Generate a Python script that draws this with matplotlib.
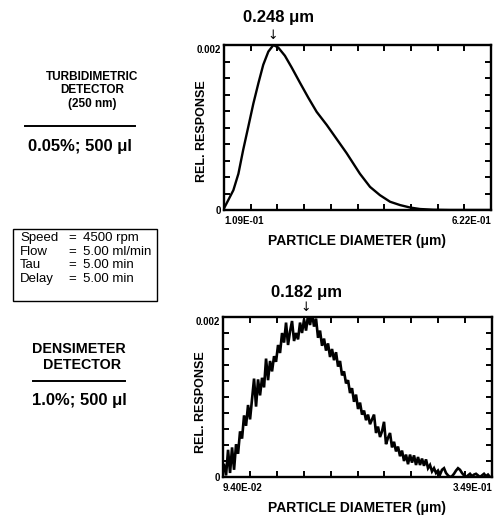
import numpy as np
import matplotlib
matplotlib.use("Agg")
import matplotlib.pyplot as plt
from matplotlib.patches import Rectangle
from matplotlib.lines import Line2D

# ---------------- data ----------------
# Turbidimetric detector (top)
turb_diam = [0.109, 0.1172, 0.1270, 0.1367, 0.1459, 0.1557, 0.1654, 0.1752, 0.1844,
             0.1942, 0.2039, 0.2131, 0.2260, 0.2388, 0.2552, 0.2711, 0.2870, 0.3065,
             0.3255, 0.3445, 0.3701, 0.3896, 0.4086, 0.4281, 0.4471, 0.4666, 0.4855,
             0.5112, 0.5430, 0.5707, 0.622]
turb_resp_e3 = [0.02, 0.12, 0.24, 0.44, 0.73, 1.01, 1.29, 1.54, 1.76,
                1.92, 2.00, 1.97, 1.87, 1.73, 1.54, 1.36, 1.19, 1.03,
                0.86, 0.69, 0.44, 0.28, 0.18, 0.10, 0.06, 0.03, 0.012,
                0.003, 0.0, 0.0, 0.0]
turb_xlim = [0.109, 0.622]
turb_xlabels = ["1.09E-01", "6.22E-01"]
turb_peak_label = "0.248 \u03bcm"
turb_arrow_x = 0.2035

# Densimeter detector (bottom), evenly sampled
dens_range = [0.0950, 0.3471]
dens_resp_e3 = [
    0.15, 0.02, 0.34, 0.05, 0.37, 0.09, 0.41, 0.29, 0.57, 0.48,
    0.77, 0.64, 0.90, 0.72, 0.98, 1.23, 0.88, 1.22, 1.02, 1.24,
    1.12, 1.48, 1.21, 1.45, 1.32, 1.51, 1.44, 1.65, 1.55, 1.80,
    1.68, 1.93, 1.65, 1.82, 1.95, 1.70, 1.80, 1.72, 1.93, 1.80,
    1.97, 1.83, 2.02, 1.90, 2.05, 1.88, 1.98, 1.74, 1.83, 1.64,
    1.73, 1.58, 1.67, 1.50, 1.60, 1.46, 1.56, 1.38, 1.45, 1.27,
    1.32, 1.17, 1.21, 1.05, 1.11, 0.94, 1.03, 0.85, 0.93, 0.78,
    0.83, 0.71, 0.78, 0.66, 0.72, 0.78, 0.55, 0.63, 0.50, 0.57,
    0.69, 0.41, 0.49, 0.55, 0.37, 0.44, 0.32, 0.38, 0.26, 0.33,
    0.20, 0.28, 0.16, 0.28, 0.18, 0.27, 0.15, 0.25, 0.15, 0.23,
    0.14, 0.22, 0.11, 0.15, 0.07, 0.11, 0.05, 0.08, 0.03, 0.09,
    0.11, 0.05, 0.02, 0.00, 0.01, 0.04, 0.08, 0.11, 0.09, 0.05,
    0.02, 0.00, 0.02, 0.04, 0.01, 0.03, 0.04, 0.02, 0.00, 0.02,
    0.04, 0.01, 0.03, 0.00]
dens_diam = np.linspace(dens_range[0], dens_range[1], len(dens_resp_e3))
dens_xlim = [0.094, 0.349]
dens_xlabels = ["9.40E-02", "3.49E-01"]
dens_peak_label = "0.182 \u03bcm"
dens_arrow_x = 0.1727

ymax = 0.002
ylabels = ["0", "0.002"]

# ---------------- figure ----------------
W, H = 494, 517
fig = plt.figure(figsize=(W / 100, H / 100), dpi=100)
fig.patch.set_facecolor("white")

SANS = ["Liberation Sans", "DejaVu Sans"]


def px(x, y):
    return x / W, 1 - y / H


def make_axes(left, top, right, bottom):
    l, t = px(left, top)
    r, b = px(right, bottom)
    return fig.add_axes([l, b, r - l, t - b])


def style_axes(ax, xlim, xlabels, ylab_y):
    ax.set_xlim(xlim)
    ax.set_ylim(0, ymax)
    for s in ax.spines.values():
        s.set_linewidth(1.7)
    ax.set_xticks(np.linspace(xlim[0], xlim[1], 11))
    ax.set_yticks(np.linspace(0, ymax, 11))
    xl = [""] * 11
    xl[0], xl[-1] = xlabels
    yl = [""] * 11
    yl[0], yl[-1] = ylabels
    ax.set_xticklabels(xl)
    ax.set_yticklabels(yl)
    ax.tick_params(direction="in", length=4, width=1.4, top=True, right=True)
    ax.tick_params(axis="x", pad=4)
    ax.tick_params(axis="y", pad=2)
    for i, lab in enumerate(ax.get_xticklabels()):
        lab.set_fontfamily(SANS)
        lab.set_fontweight("bold")
        lab.set_fontsize(7)
        if i == 0:
            lab.set_ha("left")
        elif i == 10:
            lab.set_ha("right")
    ylabs = ax.get_yticklabels()
    for lab in ylabs:
        lab.set_fontfamily(SANS)
        lab.set_fontweight("bold")
        lab.set_fontsize(7)
    ylabs[-1].set_va("top")
    ax.set_xlabel("PARTICLE DIAMETER (\u03bcm)", family=SANS, weight="bold",
                  fontsize=10, labelpad=6)
    ax.set_ylabel("REL. RESPONSE", family=SANS, weight="bold", fontsize=9)
    ax.yaxis.set_label_coords(-0.081, ylab_y)
    ax.yaxis.label.set_va("center")


# top axes
ax1 = make_axes(224, 45, 491, 210)
ax1.plot(turb_diam, np.array(turb_resp_e3) * 1e-3, color="black", lw=1.7,
         solid_joinstyle="round")
style_axes(ax1, turb_xlim, turb_xlabels, 0.48)
ax1.annotate(turb_peak_label, xy=(turb_arrow_x, ymax), xytext=(3.5, 19.5),
             textcoords="offset points", ha="center", va="center",
             family=SANS, weight="bold", fontsize=12, annotation_clip=False)
ax1.annotate("\u2193", xy=(turb_arrow_x, ymax), xytext=(0, 7),
             textcoords="offset points", ha="center", va="center",
             family="DejaVu Sans", fontsize=9, annotation_clip=False)

# bottom axes
ax2 = make_axes(223, 317, 492, 477)
ax2.plot(dens_diam, np.array(dens_resp_e3) * 1e-3, color="black", lw=1.9,
         solid_joinstyle="miter")
style_axes(ax2, dens_xlim, dens_xlabels, 0.47)
ax2.annotate(dens_peak_label, xy=(dens_arrow_x, ymax), xytext=(0, 17.5),
             textcoords="offset points", ha="center", va="center",
             family=SANS, weight="bold", fontsize=12, annotation_clip=False)
ax2.annotate("\u2193", xy=(dens_arrow_x, ymax), xytext=(0, 7),
             textcoords="offset points", ha="center", va="center",
             family="DejaVu Sans", fontsize=9, annotation_clip=False)

# ---------------- left annotations ----------------
def ftext(x, y, s, **kw):
    fx, fy = px(x, y)
    fig.text(fx, fy, s, ha=kw.pop("ha", "center"), va=kw.pop("va", "center"), **kw)


def hline(x0, x1, y, lw=1.4):
    a, b = px(x0, y)
    c, _ = px(x1, y)
    fig.add_artist(Line2D([a, c], [b, b], color="black", lw=lw))


ftext(92, 77, "TURBIDIMETRIC", family=SANS, weight="bold", fontsize=8.5)
ftext(92, 90, "DETECTOR", family=SANS, weight="bold", fontsize=8.5)
ftext(92, 104, "(250 nm)", family=SANS, weight="bold", fontsize=8.5)
hline(25, 135, 126)
ftext(80, 147, "0.05%; 500 \u03bcl", family=SANS, weight="bold", fontsize=12)

# parameter box
bx0, by0 = px(13, 301)
bx1, by1 = px(157, 229)
fig.add_artist(Rectangle((bx0, by0), bx1 - bx0, by1 - by0, transform=fig.transFigure,
                         fill=False, edgecolor="black", lw=1.0))
params = [("Speed", "4500 rpm"), ("Flow", "5.00 ml/min"),
          ("Tau", "5.00 min"), ("Delay", "5.00 min")]
for i, (k, v) in enumerate(params):
    yy = 238.5 + i * 13.5
    ftext(20, yy, k, ha="left", family=SANS, fontsize=9.5)
    ftext(68, yy, "=", ha="left", family=SANS, fontsize=9.5)
    ftext(83, yy, v, ha="left", family=SANS, fontsize=9.5)

ftext(79, 349, "DENSIMETER", family=SANS, weight="bold", fontsize=10.3)
ftext(82, 365, "DETECTOR", family=SANS, weight="bold", fontsize=10.3)
hline(33, 125, 381)
ftext(79, 400, "1.0%; 500 \u03bcl", family=SANS, weight="bold", fontsize=12)

fig.savefig("out.png", dpi=100, facecolor="white")
